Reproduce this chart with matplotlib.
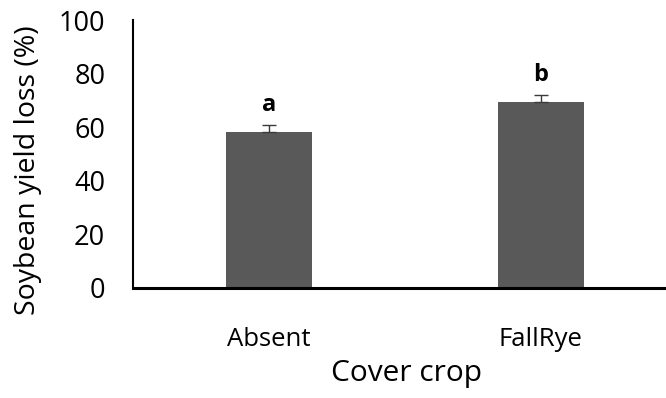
#!/usr/bin/env python3
"""Soybean yield loss by cover crop treatment."""

import matplotlib

matplotlib.use("Agg")
import matplotlib.pyplot as plt

CATEGORIES = ["Absent", "FallRye"]
YIELD_LOSS = [58.3, 69.3]
STD_ERR = [2.5, 2.7]
LETTERS = ["a", "b"]

plt.rcParams.update(
    {
        "font.family": ["Open Sans", "DejaVu Sans"],
        "font.size": 19,
    }
)

fig = plt.figure(figsize=(6.66, 3.98), dpi=100)
ax = fig.add_axes([0.1997, 0.2764, 0.8003, 0.6733])

x = list(range(len(CATEGORIES)))
ax.bar(x, YIELD_LOSS, width=0.316, color="#595959", zorder=2)
ax.errorbar(
    x, YIELD_LOSS, yerr=[[0] * len(STD_ERR), STD_ERR],
    fmt="none", ecolor="#3a3a3a", elinewidth=1.0, capsize=5, capthick=1.0, zorder=3,
)
for xi, y, err, letter in zip(x, YIELD_LOSS, STD_ERR, LETTERS):
    ax.text(xi, y + err + 3, letter, ha="center", va="bottom",
            fontsize=17, fontweight="bold")

ax.set_xlim(-0.5, 1.46)
ax.set_ylim(0, 100)
ax.set_yticks([0, 20, 40, 60, 80, 100])
ax.set_xticks(x)
ax.set_xticklabels(CATEGORIES, fontsize=18.5)
ax.tick_params(axis="both", length=0)
ax.tick_params(axis="y", pad=20, labelsize=19.5)
ax.tick_params(axis="x", pad=28)
ax.set_xlabel("Cover crop", fontsize=21.5)
ax.set_ylabel("Soybean yield loss (%)", fontsize=20.5)
ax.xaxis.set_label_coords(0.514, -0.265)
ax.yaxis.set_label_coords(-0.17, 0.44)
ax.spines[["top", "right"]].set_visible(False)
ax.spines["left"].set_linewidth(1.5)
ax.spines["bottom"].set_linewidth(2.2)

fig.savefig("out.png", dpi=100)
